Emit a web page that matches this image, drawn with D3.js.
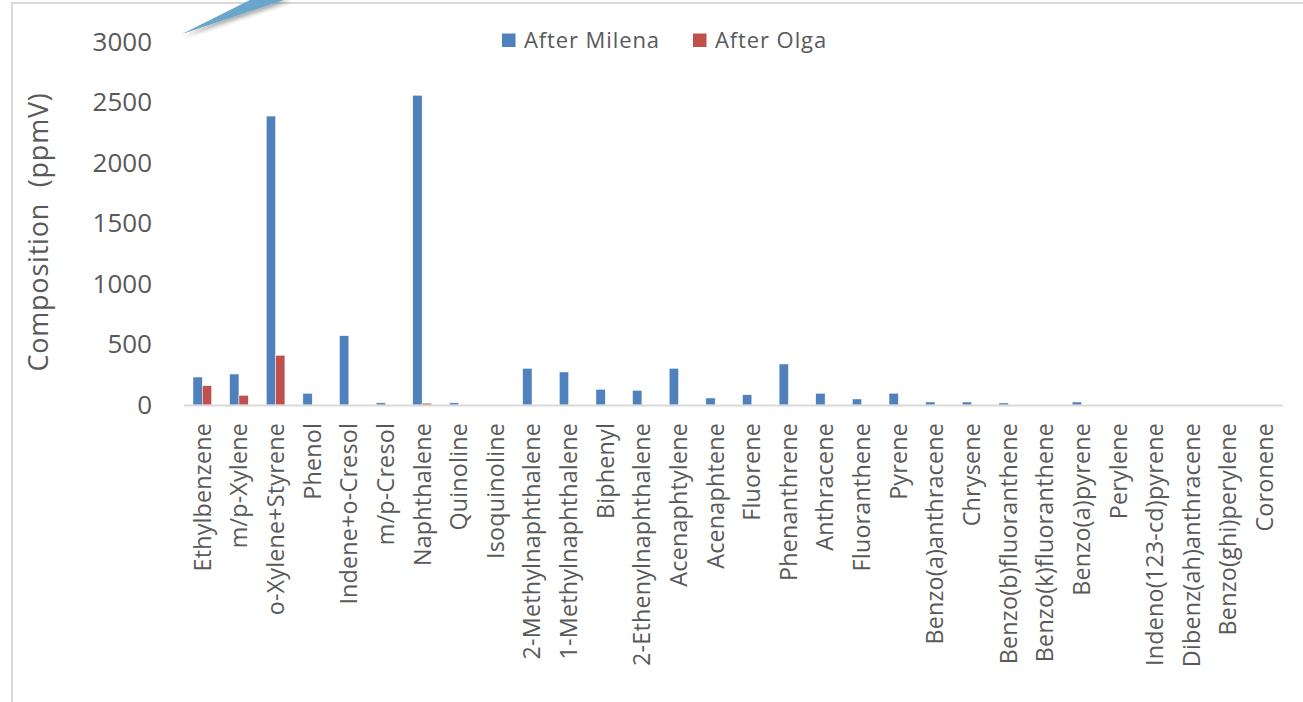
<!DOCTYPE html>
<html><head><meta charset="utf-8">
<script src="https://cdn.jsdelivr.net/npm/d3@7"></script>
<style>
html,body{margin:0;padding:0;background:#fff;}
svg{display:block;font-family:"Open Sans",sans-serif;}
</style></head>
<body><svg id="c" width="1303" height="702"></svg>
<script>
const categories = ["Ethylbenzene","m/p-Xylene","o-Xylene+Styrene","Phenol","Indene+o-Cresol","m/p-Cresol","Naphthalene","Quinoline","Isoquinoline","2-Methylnaphthalene","1-Methylnaphthalene","Biphenyl","2-Ethenylnaphthalene","Acenaphtylene","Acenaphtene","Fluorene","Phenanthrene","Anthracene","Fluoranthene","Pyrene","Benzo(a)anthracene","Chrysene","Benzo(b)fluoranthene","Benzo(k)fluoranthene","Benzo(a)pyrene","Perylene","Indeno(123-cd)pyrene","Dibenz(ah)anthracene","Benzo(ghi)perylene","Coronene"];
const afterMilena = [231,256,2388,97,573,18,2560,18,0,303,273,130,121,303,58,85,339,97,50,97,25,25,17,0,25,0,0,0,0,0];
const afterOlga   = [160,80,411,0,0,0,15,0,0,0,0,0,0,0,0,0,0,0,0,0,0,0,0,0,0,0,0,0,0,0];
const seriesNames = ["After Milena","After Olga"];
const seriesColors = ["#4F81BD","#C0504D"];
const yTicks = [0,500,1000,1500,2000,2500,3000];

const svg = d3.select("#c");
const textCol = "#595959";

// frame
svg.append("path").attr("d","M12,702 L12,3 L1303,3").attr("fill","none").attr("stroke","#d9d9d9").attr("stroke-width",2);

// callout wedge
const defs = svg.append("defs");
const f = defs.append("filter").attr("id","sh").attr("x","-20%").attr("y","-50%").attr("width","140%").attr("height","200%");
f.append("feDropShadow").attr("dx",1).attr("dy",3).attr("stdDeviation",2).attr("flood-color","#000").attr("flood-opacity",0.35);
svg.append("path").attr("d","M182,34 L254,-2 L290,-2 Z").attr("fill","#6BA5CB").attr("filter","url(#sh)");

const x = d3.scaleBand().domain(categories).range([184,1283]).paddingInner(0.49).paddingOuter(0.245);
const x1 = d3.scaleBand().domain(seriesNames).range([0,x.bandwidth()]);
const y = d3.scaleLinear().domain([0,3000]).range([405,42]);

// bars
const data = categories.map((c,i)=>({c, vals:[afterMilena[i],afterOlga[i]]}));
const g = svg.append("g");
data.forEach(d=>{
  d.vals.forEach((v,k)=>{
    if(v<=0) return;
    g.append("rect")
      .attr("x", x(d.c)+x1(seriesNames[k]))
      .attr("y", y(v))
      .attr("width", x1.bandwidth())
      .attr("height", y(0)-y(v))
      .attr("fill", seriesColors[k])
      .attr("stroke","#fff").attr("stroke-width",0.5);
  });
});

// x baseline
svg.append("line").attr("x1",184).attr("x2",1283).attr("y1",405.5).attr("y2",405.5).attr("stroke","#d9d9d9").attr("stroke-width",2);

// y axis
const ya = svg.append("g").attr("transform","translate(184,0)")
  .call(d3.axisLeft(y).tickValues(yTicks).tickSize(0).tickPadding(32).tickFormat(d3.format("d")));
ya.select(".domain").remove();
ya.selectAll("text").attr("font-size",26).attr("fill",textCol).attr("font-family","Open Sans, sans-serif");

// x labels
const xa = svg.append("g");
categories.forEach(c=>{
  const cx = x(c)+x.bandwidth()/2;
  xa.append("text").attr("transform",`translate(${cx},423) rotate(-90)`)
    .attr("text-anchor","end").attr("dy","0.36em")
    .attr("font-size",23.3).attr("fill",textCol).attr("letter-spacing",0.2)
    .text(c);
});

// y title
svg.append("text").attr("transform","translate(38,232) rotate(-90)")
  .attr("text-anchor","middle").attr("dy","0.36em")
  .attr("font-size",27).attr("fill",textCol).attr("letter-spacing",0.8)
  .attr("xml:space","preserve").style("white-space","pre")
  .text("Composition  (ppmV)");

// legend
const legX = [502, 693];
seriesNames.forEach((s,k)=>{
  svg.append("rect").attr("x",legX[k]).attr("y",33.5).attr("width",13.5).attr("height",13.5).attr("fill",seriesColors[k]);
  svg.append("text").attr("x",legX[k]+22).attr("y",48).attr("font-size",22).attr("letter-spacing",0.9)
    .attr("fill",textCol).text(s);
});
</script></body></html>
